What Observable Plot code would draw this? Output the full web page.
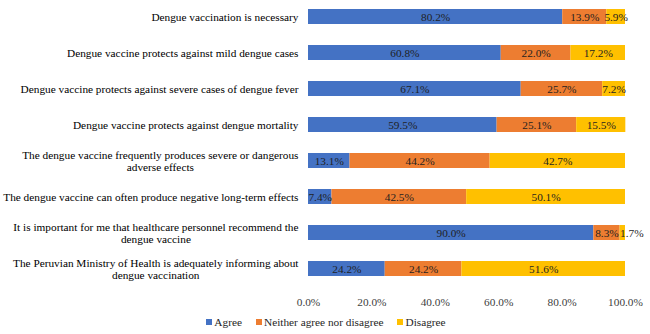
<!DOCTYPE html>
<html>
<head>
<meta charset="utf-8">
<script src="https://cdn.jsdelivr.net/npm/d3@7"></script>
<script src="https://cdn.jsdelivr.net/npm/@observablehq/plot@0.6"></script>
<style>
  html, body { margin: 0; padding: 0; background: #fff; }
  #chart { width: 650px; font-family: "Liberation Serif", "Times New Roman", serif; }
  .legend { display: flex; justify-content: center; align-items: center; height: 24px;
            font-size: 11.3px; color: #262626; padding-left: 2px; }
  .legend .item { display: flex; align-items: center; margin: 0 7px; }
  .legend .swatch { width: 6px; height: 6px; margin-right: 2px; }
</style>
</head>
<body>
<div id="chart"></div>
<script>
// Survey statements (y categories); "\n" marks where a long statement wraps
const statements = [
  "Dengue vaccination is necessary",
  "Dengue vaccine protects against mild dengue cases",
  "Dengue vaccine protects against severe cases of dengue fever",
  "Dengue vaccine protects against dengue mortality",
  "The dengue vaccine frequently produces severe or dangerous\nadverse effects",
  "The dengue vaccine can often produce negative long-term effects",
  "It is important for me that healthcare personnel recommend the\ndengue vaccine",
  "The Peruvian Ministry of Health is adequately informing about\ndengue vaccination"
];
const responses = ["Agree", "Neither agree nor disagree", "Disagree"];
const responseColors = ["#4472C4", "#ED7D31", "#FFC000"];

// Percentage of respondents per answer
const agree    = [80.2, 60.8, 67.1, 59.5, 13.1,  7.4, 90.0, 24.2];
const neither  = [13.9, 22.0, 25.7, 25.1, 44.2, 42.5,  8.3, 24.2];
const disagree = [ 5.9, 17.2,  7.2, 15.5, 42.7, 50.1,  1.7, 51.6];

const xTicks = [0, 20, 40, 60, 80, 100];

// Tidy rows with cumulative start/end of each stacked segment
const series = [agree, neither, disagree];
const rows = [];
statements.forEach((s, i) => {
  let acc = 0;
  series.forEach((vals, j) => {
    rows.push({statement: s, response: responses[j], value: vals[i], start: acc, end: acc + vals[i]});
    acc += vals[i];
  });
});

const pct = d => d.toFixed(1) + "%";
const wide = rows.filter(d => d.value >= 3);
const narrow = rows.filter(d => d.value < 3);

const chart = Plot.plot({
  width: 650,
  height: 310,
  marginLeft: 308,
  marginRight: 25,
  marginTop: 3,
  marginBottom: 28,
  style: {fontFamily: "Liberation Serif, Times New Roman, serif", fontSize: "11.3px", background: "#fff", color: "#000"},
  x: {domain: [0, 100], label: null},
  y: {domain: statements, paddingInner: 0.59, paddingOuter: 0.1, label: null},
  color: {domain: responses, range: responseColors},
  marks: [
    Plot.barX(rows, {y: "statement", x1: "start", x2: "end", fill: "response"}),
    Plot.text(wide, {y: "statement", x: d => (d.start + d.end) / 2, text: d => pct(d.value), fill: "#1f1f1f"}),
    Plot.text(narrow, {y: "statement", x: "start", text: d => pct(d.value), textAnchor: "start", fill: "#1f1f1f"}),
    Plot.axisY({tickSize: 0, tickPadding: 10, lineHeight: 1.1, color: "#000", label: null}),
    Plot.axisX({ticks: xTicks, tickSize: 0, tickPadding: 15, tickFormat: pct, color: "#404040", label: null})
  ]
});

const root = document.getElementById("chart");
root.appendChild(chart);

// Wrapped statements: centre the lines on each other, block stays right-aligned
chart.querySelectorAll('g[aria-label="y-axis tick label"] text').forEach(t => {
  const spans = Array.from(t.querySelectorAll("tspan"));
  if (spans.length < 2) return;
  const w = Math.max(...spans.map(s => s.getComputedTextLength()));
  t.setAttribute("text-anchor", "middle");
  spans.forEach(s => s.setAttribute("x", -w / 2));
});

// Legend below the plot
const legend = document.createElement("div");
legend.className = "legend";
responses.forEach((r, i) => {
  const item = document.createElement("div");
  item.className = "item";
  const sw = document.createElement("span");
  sw.className = "swatch";
  sw.style.background = responseColors[i];
  const lab = document.createElement("span");
  lab.textContent = r;
  item.appendChild(sw);
  item.appendChild(lab);
  legend.appendChild(item);
});
root.appendChild(legend);
</script>
</body>
</html>
